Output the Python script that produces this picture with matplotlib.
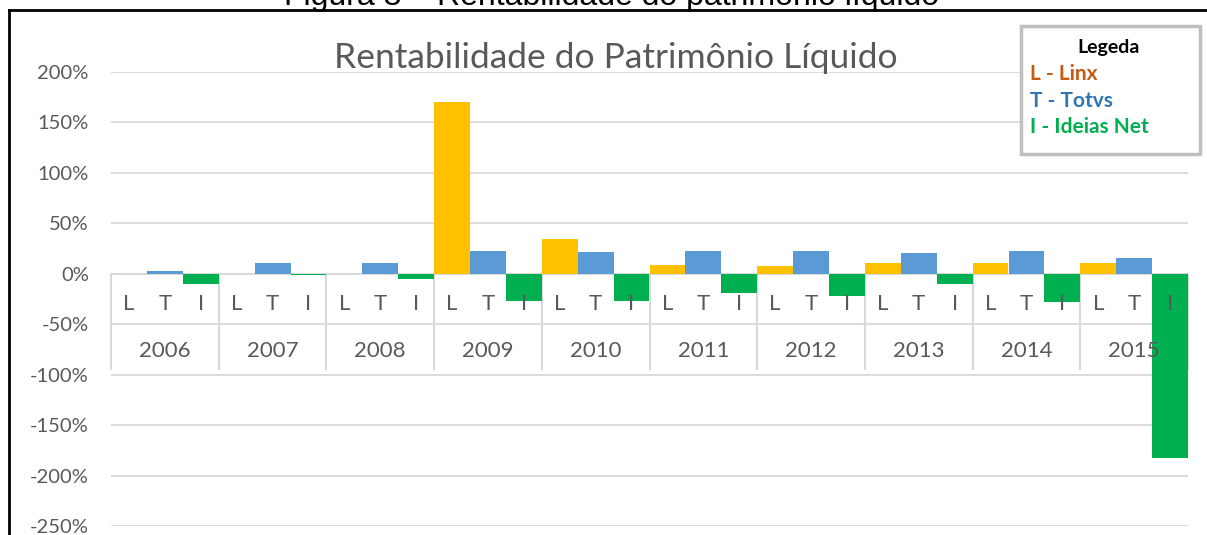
import matplotlib.pyplot as plt
import numpy as np

years = ["2006", "2007", "2008", "2009", "2010", "2011", "2012", "2013", "2014", "2015"]
sub_labels = ["L", "T", "I"]
linx = [0, 0, 0, 170, 34, 9, 8, 11, 11, 11]
totvs = [3, 11, 11, 23, 22, 23, 23, 21, 23, 16]
ideias = [-10, -1.5, -5.5, -27, -27, -19.5, -22.5, -10.5, -28, -183]
yticks = [200, 150, 100, 50, 0, -50, -100, -150, -200, -250]

W, H = 1207, 535
fig = plt.figure(figsize=(W / 100, H / 100), dpi=100)
plt.rcParams['font.family'] = ['Lato', 'DejaVu Sans']

def fx(px):
    return px / W

def fy(py):
    return 1 - py / H

# plot area in pixels
left, right, top, bottom = 111, 1188, 72, 526
ax = fig.add_axes([fx(left), fy(bottom), fx(right - left), fy(top) - fy(bottom)])
ax.set_xlim(0, len(years))
ax.set_ylim(-250, 200)
for s in ax.spines.values():
    s.set_visible(False)
ax.set_xticks([])
ax.set_yticks(yticks)
ax.set_yticklabels([f"{v}%" for v in yticks], color='#595959', fontsize=14.5)
ax.tick_params(axis='y', length=0, pad=16)
ax.yaxis.grid(True, color='#d9d9d9', lw=1.3)
ax.set_axisbelow(True)

x = np.arange(len(years))
w = 1 / 3
ax.bar(x + w / 2, linx, width=w, color='#ffc000', zorder=3)
ax.bar(x + 3 * w / 2, totvs, width=w, color='#5b9bd5', zorder=3)
ax.bar(x + 5 * w / 2, ideias, width=w, color='#00b050', zorder=3)

# multi-level category axis
ax.axhline(0, color='#d9d9d9', lw=1.5, zorder=2)
for i in range(len(years) + 1):
    ax.plot([i, i], [0, -94], color='#d9d9d9', lw=1.5, zorder=2, clip_on=False)
for i, yr in enumerate(years):
    for j, lab in enumerate(sub_labels):
        ax.text(i + (j + 0.5) * w, -30, lab, ha='center', va='center',
                fontsize=16, color='#595959', zorder=4)
    ax.text(i + 0.5, -77, yr, ha='center', va='center',
            fontsize=16, color='#595959', zorder=4)

# title
fig.text(fx(616), fy(58), "Rentabilidade do Patrimônio Líquido", ha='center',
         va='center', fontsize=25.5, color='#595959')

# legend box
fig.patches.append(plt.Rectangle((fx(1021), fy(154)), fx(179), fy(26) - fy(154),
                                 transform=fig.transFigure, fill=True, fc='white',
                                 ec='#bfbfbf', lw=2.5, zorder=5))
fig.text(fx(1109), fy(48), "Legeda", ha='center', va='center', fontsize=14,
         fontweight='bold', color='black', zorder=6)
fig.text(fx(1030), fy(74), "L - Linx", ha='left', va='center', fontsize=15,
         fontweight='bold', color='#c55a11', zorder=6)
fig.text(fx(1030), fy(101), "T - Totvs", ha='left', va='center', fontsize=15,
         fontweight='bold', color='#2e75b6', zorder=6)
fig.text(fx(1030), fy(127), "I - Ideias Net", ha='left', va='center', fontsize=15,
         fontweight='bold', color='#00b050', zorder=6)

# outer frame and cut caption
fig.add_artist(plt.Line2D([fx(9), fx(9)], [fy(10), 0], color='black', lw=2))
fig.add_artist(plt.Line2D([fx(9), 1], [fy(10), fy(10)], color='black', lw=2))
fig.text(fx(612), fy(5), "Figura 3 – Rentabilidade do patrimônio líquido",
         ha='center', va='baseline', fontsize=23, family='Liberation Sans',
         color='black')

fig.savefig('out.png', dpi=100)
